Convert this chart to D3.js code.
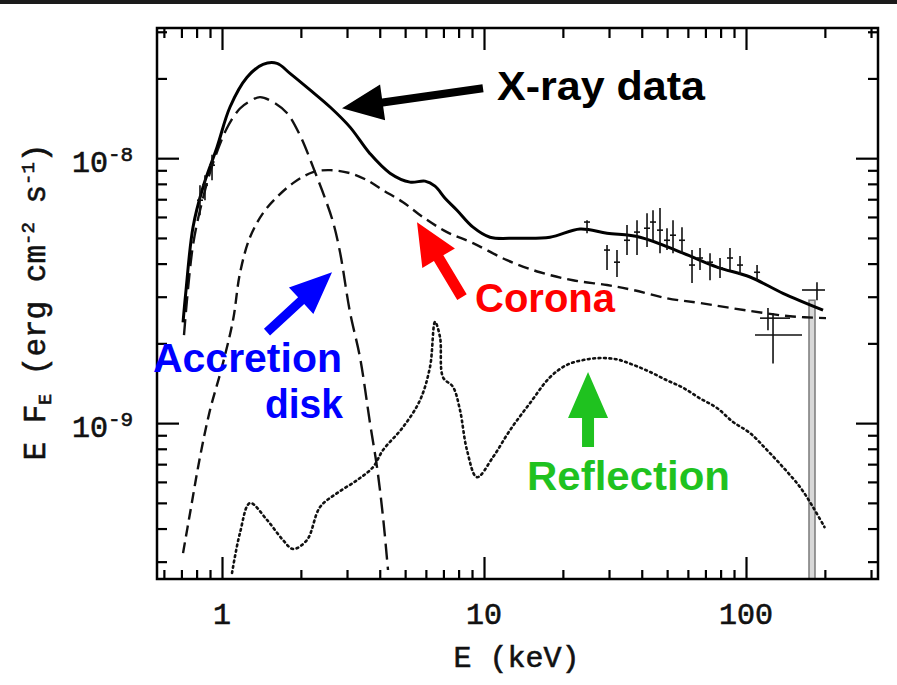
<!DOCTYPE html>
<html><head><meta charset="utf-8">
<script src="https://cdn.jsdelivr.net/npm/d3@7"></script>
<style>body{margin:0;background:#fff;}svg{display:block;}</style>
</head><body><svg id="c" width="897" height="685"></svg>
<script>
// ---- data (E in keV, EF_E in erg cm^-2 s^-1) ----
const totalE = [0.710, 0.729, 0.775, 0.846, 0.957, 1.073, 1.246, 1.434, 1.621, 1.817, 2.167, 2.584, 3.080, 3.672, 4.377, 5.220, 5.955, 6.502, 7.100, 7.885, 9.078, 10.54, 13.37, 17.86, 23.25, 29.48, 39.39, 57.48, 77.51, 103.6, 138.4, 196.8];
const totalF = [2.40e-9, 3.18e-9, 5.49e-9, 7.77e-9, 1.10e-8, 1.56e-8, 2.02e-8, 2.26e-8, 2.28e-8, 2.09e-8, 1.81e-8, 1.56e-8, 1.31e-8, 1.04e-8, 8.78e-9, 8.12e-9, 8.19e-9, 7.84e-9, 7.06e-9, 6.36e-9, 5.49e-9, 5.03e-9, 4.99e-9, 5.03e-9, 5.40e-9, 5.21e-9, 5.03e-9, 4.38e-9, 3.88e-9, 3.56e-9, 3.09e-9, 2.67e-9];

const diskE = [0.716, 0.775, 0.846, 0.924, 1.045, 1.171, 1.279, 1.396, 1.565, 1.770, 1.985, 2.265, 2.473, 2.653, 2.821, 3.080, 3.363, 3.672, 3.905, 4.117, 4.301];
const diskF = [2.15e-9, 4.70e-9, 7.06e-9, 9.57e-9, 1.30e-8, 1.54e-8, 1.64e-8, 1.70e-8, 1.63e-8, 1.48e-8, 1.22e-8, 8.86e-9, 7.06e-9, 5.74e-9, 4.42e-9, 2.62e-9, 1.77e-9, 1.00e-9, 6.82e-10, 4.42e-10, 2.79e-10];

const coronaE = [0.710, 0.755, 0.824, 0.900, 1.000, 1.102, 1.171, 1.279, 1.434, 1.621, 1.866, 2.225, 2.584, 3.080, 3.576, 4.117, 4.908, 5.850, 7.224, 9.078, 12.24, 16.36, 21.86, 29.48, 37.05, 49.94, 66.75, 103.6, 147.2, 202.0];
const coronaF = [3.23e-10, 4.57e-10, 7.44e-10, 1.12e-9, 1.63e-9, 2.45e-9, 3.68e-9, 5.03e-9, 6.20e-9, 7.13e-9, 8.05e-9, 8.86e-9, 9.01e-9, 8.78e-9, 8.26e-9, 7.57e-9, 6.82e-9, 5.99e-9, 5.26e-9, 4.78e-9, 4.12e-9, 3.71e-9, 3.46e-9, 3.32e-9, 3.18e-9, 2.96e-9, 2.84e-9, 2.65e-9, 2.53e-9, 2.49e-9];

const reflE = [1.092, 1.171, 1.279, 1.485, 1.709, 1.866, 2.110, 2.366, 2.748, 3.275, 3.770, 4.117, 4.908, 5.697, 6.222, 6.502, 6.795, 6.975, 7.615, 8.097, 8.610, 9.401, 10.82, 12.57, 14.98, 17.86, 20.75, 23.88, 27.71, 32.18, 37.05, 43.02, 49.94, 57.48, 66.75, 77.51, 89.21, 103.6, 120.3, 138.4, 160.7, 180.2, 199.3];
const reflF = [2.72e-10, 3.85e-10, 4.99e-10, 4.31e-10, 3.62e-10, 3.35e-10, 3.62e-10, 4.82e-10, 5.44e-10, 6.09e-10, 6.82e-10, 7.91e-10, 9.66e-10, 1.22e-9, 1.63e-9, 2.41e-9, 2.11e-9, 1.49e-9, 1.37e-9, 1.12e-9, 7.91e-10, 6.25e-10, 7.44e-10, 9.41e-10, 1.19e-9, 1.49e-9, 1.66e-9, 1.73e-9, 1.76e-9, 1.74e-9, 1.66e-9, 1.56e-9, 1.45e-9, 1.36e-9, 1.24e-9, 1.14e-9, 1.01e-9, 9.17e-10, 7.91e-10, 6.82e-10, 5.74e-10, 4.82e-10, 4.05e-10];

// X-ray data points with error bars
const dataE  = [0.824, 0.861, 0.916, 24.73, 29.48, 32.18, 35.14, 38.37, 41.90, 44.16, 46.96, 49.94, 52.65, 56.97, 62.22, 66.75, 72.88, 79.58, 86.87, 94.87, 110.2, 121.3, 126.8, 186.6];
const dataF  = [6.94e-9, 7.91e-9, 9.41e-9, 5.74e-9, 4.50e-9, 4.05e-9, 4.90e-9, 5.26e-9, 5.44e-9, 5.74e-9, 5.35e-9, 4.90e-9, 5.12e-9, 4.90e-9, 3.95e-9, 4.20e-9, 4.05e-9, 3.85e-9, 4.20e-9, 3.95e-9, 3.71e-9, 2.49e-9, 2.15e-9, 3.18e-9];
const dataLo = [6.09e-9, 6.94e-9, 8.26e-9, 5.21e-9, 3.78e-9, 3.56e-9, 4.31e-9, 4.31e-9, 4.62e-9, 4.90e-9, 4.38e-9, 4.50e-9, 4.38e-9, 4.38e-9, 3.38e-9, 3.78e-9, 3.46e-9, 3.53e-9, 3.78e-9, 3.62e-9, 3.46e-9, 2.24e-9, 1.68e-9, 2.91e-9];
const dataHi = [7.91e-9, 8.63e-9, 1.03e-8, 5.83e-9, 4.70e-9, 4.50e-9, 5.59e-9, 5.83e-9, 6.20e-9, 6.36e-9, 6.48e-9, 5.44e-9, 5.83e-9, 5.49e-9, 4.50e-9, 4.58e-9, 4.38e-9, 4.20e-9, 4.58e-9, 4.27e-9, 3.95e-9, 2.72e-9, 2.60e-9, 3.40e-9];
const dataBinLo = [null, null, null, null, null, null, null, null, null, null, null, null, null, null, null, null, null, null, null, null, null, 113.1, 108.2, 163.6];
const dataBinHi = [null, null, null, null, null, null, null, null, null, null, null, null, null, null, null, null, null, null, null, null, null, 147.2, 163.6, 200.2];
// last (upper-limit) bin
const ulE = 178.6, ulLo = 2.58e-10, ulHi = 2.91e-9;

// axis ticks
const xMajor = [1, 10, 100];
const xMinor = [0.6, 0.7, 0.8, 0.9, 2, 3, 4, 5, 6, 7, 8, 9, 20, 30, 40, 50, 60, 70, 80, 90, 200, 300];
const yMajor = [1e-9, 1e-8];
const yMajorExp = ["-9", "-8"];
const yMinor = [3e-10, 4e-10, 5e-10, 6e-10, 7e-10, 8e-10, 9e-10, 2e-9, 3e-9, 4e-9, 5e-9, 6e-9, 7e-9, 8e-9, 9e-9, 2e-8, 3e-8];

// annotations
const notes = [
  {text:"X-ray data", tE:9.913, tF:1.837e-8, hE:2.871, hF:1.544e-8, lE:11.21, lF:1.655e-8, col:"#000000", w:208, shaft:8, headL:41, headW:18},
  {text:"Corona", tE:8.241, tF:2.988e-9, hE:5.551, hF:5.735e-9, lE:9.24, lF:2.624e-9, col:"#ff0000", w:140, shaft:11, headL:42, headW:19},
  {text:"Accretion", tE:1.485, tF:2.205e-9, hE:2.630, hF:3.713e-9, lE:0.5452, lF:1.558e-9, col:"#0000ff", w:189, shaft:9, headL:42, headW:18},
  {text:"disk", lE:1.459, lF:1.044e-9, col:"#0000ff", w:78},
  {text:"Reflection", tE:24.95, tF:8.118e-10, hE:24.95, hF:1.558e-9, lE:14.59, lF:5.586e-10, col:"#1fc21f", w:203, shaft:12, headL:46, headW:20}
];

// ---- drawing ----
const svg = d3.select("#c");
const L = 157, R = 878, T = 28, B = 579;
const x = d3.scaleLog().domain([0.5648, 319.0]).range([L, R]);
const y = d3.scaleLog().domain([2.58e-10, 3.1e-8]).range([B, T]);

svg.append("rect").attr("x",0).attr("y",0).attr("width",897).attr("height",685).attr("fill","#fff");
svg.append("rect").attr("x",0).attr("y",0).attr("width",897).attr("height",4).attr("fill","#1b1b1b");

svg.append("defs").append("clipPath").attr("id","clip")
  .append("rect").attr("x",L).attr("y",T).attr("width",R-L).attr("height",B-T);

const plot = svg.append("g").attr("clip-path","url(#clip)");
const zip = (a,b)=>a.map((v,i)=>[v,b[i]]);
const line = d3.line().x(d=>x(d[0])).y(d=>y(d[1])).curve(d3.curveCatmullRom.alpha(0.5));

// upper-limit bar
plot.append("rect").attr("x", x(ulE)-3).attr("width",6)
  .attr("y", y(ulHi)).attr("height", y(ulLo)-y(ulHi))
  .attr("fill","#d8d8d8").attr("stroke","#7a7a7a").attr("stroke-width",1.5);

// models
plot.append("path").datum(zip(reflE,reflF)).attr("d",line).attr("fill","none")
  .attr("stroke","#111").attr("stroke-width",2.6).attr("stroke-dasharray","1.8,3.6").attr("stroke-linecap","round");
plot.append("path").datum(zip(coronaE,coronaF)).attr("d",line).attr("fill","none")
  .attr("stroke","#111").attr("stroke-width",2.4).attr("stroke-dasharray","11,6");
plot.append("path").datum(zip(diskE,diskF)).attr("d",line).attr("fill","none")
  .attr("stroke","#111").attr("stroke-width",2.4).attr("stroke-dasharray","16,7");
plot.append("path").datum(zip(totalE,totalF)).attr("d",line).attr("fill","none")
  .attr("stroke","#000").attr("stroke-width",3);

// data error bars
const eb = plot.append("g").attr("stroke","#111").attr("stroke-width",1.6);
dataE.forEach((e,i)=>{
  eb.append("line").attr("x1",x(e)).attr("x2",x(e)).attr("y1",y(dataLo[i])).attr("y2",y(dataHi[i]));
  if (dataBinLo[i] !== null) {
    eb.append("line").attr("x1",x(dataBinLo[i])).attr("x2",x(dataBinHi[i])).attr("y1",y(dataF[i])).attr("y2",y(dataF[i]));
  } else {
    eb.append("line").attr("x1",x(e)-3).attr("x2",x(e)+3).attr("y1",y(dataF[i])).attr("y2",y(dataF[i]));
  }
});

// frame
svg.append("rect").attr("x",L).attr("y",T).attr("width",R-L).attr("height",B-T)
  .attr("fill","none").attr("stroke","#000").attr("stroke-width",2.5);

function ticks(gen, vals, size, tr){
  const g = svg.append("g").attr("transform",tr)
    .call(gen.tickValues(vals).tickSize(size).tickFormat(""));
  g.select(".domain").remove();
  g.selectAll(".tick line").attr("stroke","#000").attr("stroke-width",2.2);
}
ticks(d3.axisBottom(x), xMajor, -22, `translate(0,${B})`);
ticks(d3.axisBottom(x), xMinor, -9, `translate(0,${B})`);
ticks(d3.axisTop(x), xMajor, -22, `translate(0,${T})`);
ticks(d3.axisTop(x), xMinor, -10, `translate(0,${T})`);
ticks(d3.axisLeft(y), yMajor, -22, `translate(${L},0)`);
ticks(d3.axisLeft(y), yMinor, -10, `translate(${L},0)`);
ticks(d3.axisRight(y), yMajor, -22, `translate(${R},0)`);
ticks(d3.axisRight(y), yMinor, -10, `translate(${R},0)`);

// tick labels
const mono = "'Liberation Mono','DejaVu Sans Mono',monospace";
xMajor.forEach(v=>{
  svg.append("text").attr("x",x(v)).attr("y",B+45).attr("text-anchor","middle")
    .attr("font-family",mono).attr("font-size",30).attr("fill","#111")
    .attr("stroke","#111").attr("stroke-width",0.6).text(String(v));
});
yMajor.forEach((v,i)=>{
  const t = svg.append("text").attr("x",72).attr("y",y(v)+14)
    .attr("font-family",mono).attr("font-size",30).attr("fill","#111")
    .attr("stroke","#111").attr("stroke-width",0.6);
  t.append("tspan").text("10");
  t.append("tspan").attr("dy",-11).attr("font-size",21).text(yMajorExp[i]);
});

// axis titles
svg.append("text").attr("x",(L+R)/2 - 1).attr("y",667).attr("text-anchor","middle")
  .attr("font-family",mono).attr("font-size",30).attr("fill","#111")
  .attr("stroke","#111").attr("stroke-width",0.6).text("E (keV)");
const yl = svg.append("text").attr("transform","translate(45,302) rotate(-90)")
  .attr("text-anchor","middle").attr("font-family",mono).attr("font-size",31)
  .attr("fill","#111").attr("stroke","#111").attr("stroke-width",0.6);
yl.append("tspan").text("E F");
yl.append("tspan").attr("dy",6).attr("font-size",18).text("E");
yl.append("tspan").attr("dy",-6).text(" (erg cm");
yl.append("tspan").attr("dy",-11).attr("font-size",19).text("-2");
yl.append("tspan").attr("dy",11).text(" s");
yl.append("tspan").attr("dy",-11).attr("font-size",19).text("-1");
yl.append("tspan").attr("dy",11).text(")");

// annotations
function arrow(n){
  const x0=x(n.tE), y0=y(n.tF), x1=x(n.hE), y1=y(n.hF);
  const dx=x1-x0, dy=y1-y0, len=Math.hypot(dx,dy), ux=dx/len, uy=dy/len, nx=-uy, ny=ux;
  const bx=x1-ux*n.headL, by=y1-uy*n.headL, s=n.shaft/2;
  const pts=[[x0+nx*s,y0+ny*s],[bx+nx*s,by+ny*s],[bx+nx*n.headW,by+ny*n.headW],[x1,y1],
             [bx-nx*n.headW,by-ny*n.headW],[bx-nx*s,by-ny*s],[x0-nx*s,y0-ny*s]];
  svg.append("polygon").attr("points",pts.map(p=>p.join(",")).join(" ")).attr("fill",n.col);
}
notes.forEach(n=>{
  if (n.tE !== undefined) arrow(n);
  svg.append("text").attr("x",x(n.lE)).attr("y",y(n.lF))
    .attr("font-family","'Liberation Sans',Arial,sans-serif").attr("font-weight","bold")
    .attr("font-size",40).attr("fill",n.col)
    .attr("textLength",n.w).attr("lengthAdjust","spacingAndGlyphs").text(n.text);
});
</script></body></html>
